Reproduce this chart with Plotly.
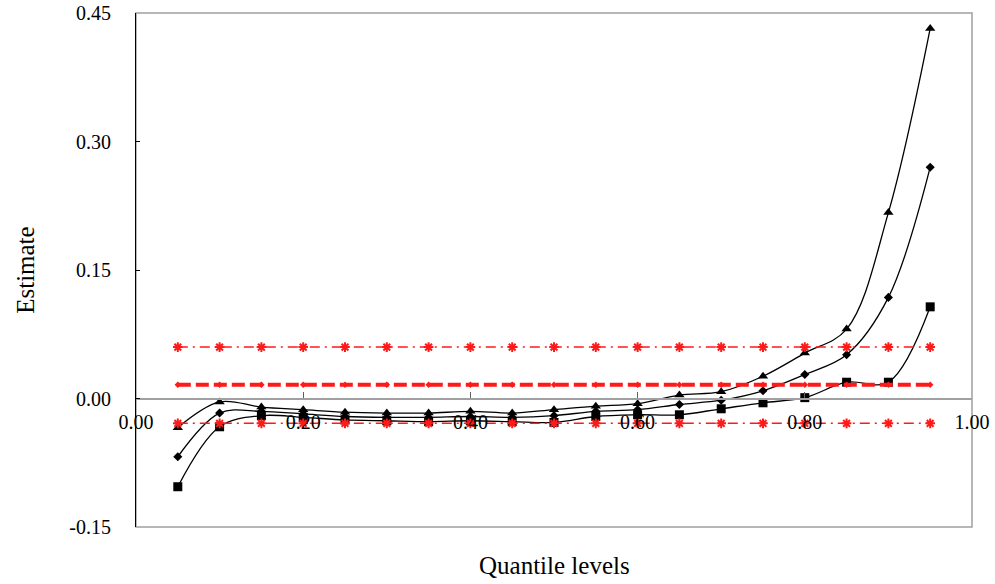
import plotly.graph_objects as go

# Quantile levels
q = [0.05, 0.10, 0.15, 0.20, 0.25, 0.30, 0.35, 0.40, 0.45, 0.50,
     0.55, 0.60, 0.65, 0.70, 0.75, 0.80, 0.85, 0.90, 0.95]

# Quantile regression estimates (three series)
est_triangle = [-0.034, -0.004, -0.010, -0.013, -0.016, -0.017, -0.017, -0.015, -0.017, -0.013,
                -0.009, -0.006, 0.004, 0.008, 0.026, 0.053, 0.081, 0.217, 0.432]
est_diamond = [-0.068, -0.017, -0.015, -0.018, -0.021, -0.022, -0.022, -0.021, -0.022, -0.020,
               -0.015, -0.013, -0.007, -0.002, 0.009, 0.028, 0.051, 0.118, 0.270]
est_square = [-0.103, -0.033, -0.020, -0.022, -0.025, -0.026, -0.027, -0.026, -0.027, -0.028,
              -0.021, -0.019, -0.019, -0.012, -0.005, 0.001, 0.019, 0.019, 0.107]

# Constant reference lines (OLS estimate and its bounds)
ols_est = [0.016] * len(q)
upper_bound = [0.060] * len(q)
lower_bound = [-0.029] * len(q)

y_ticks = [-0.15, 0.00, 0.15, 0.30, 0.45]
y_tick_text = ["-0.15", "0.00", "0.15", "0.30", "0.45"]
x_ticks = [0.0, 0.2, 0.4, 0.6, 0.8, 1.0]
x_tick_text = ["0.00", "0.20", "0.40", "0.60", "0.80", "1.00"]

FONT = "Liberation Serif"

fig = go.Figure()

for ys, sym, size in [(est_triangle, "triangle-up", 9),
                      (est_diamond, "diamond", 7),
                      (est_square, "square", 9)]:
    fig.add_trace(go.Scatter(
        x=q, y=ys, mode="lines+markers",
        line=dict(color="black", width=1.3, shape="spline", smoothing=1.0),
        marker=dict(symbol=sym, size=size, color="black"),
        showlegend=False))

for ys in [upper_bound, lower_bound]:
    fig.add_trace(go.Scatter(
        x=q, y=ys, mode="lines+markers",
        line=dict(color="#ff1a1a", width=1.5, dash="10px,5px,2px,5px"),
        marker=dict(symbol="asterisk-open", size=8,
                    line=dict(color="#ff1a1a", width=2)),
        showlegend=False))

fig.add_trace(go.Scatter(
    x=q, y=ols_est, mode="lines+markers",
    line=dict(color="#ff1a1a", width=4, dash="13px,5px"),
    marker=dict(symbol="diamond", size=5, color="#ff1a1a"),
    showlegend=False))

fig.update_layout(
    width=995, height=584,
    margin=dict(l=136, r=23, t=13, b=57),
    paper_bgcolor="white", plot_bgcolor="white",
    font=dict(family=FONT, size=20, color="black"),
    xaxis=dict(range=[0, 1], tickvals=x_ticks, ticktext=x_tick_text,
               anchor="free", position=0.25, automargin=False,
               showline=True, linecolor="#a0a0a0", linewidth=1.5,
               ticks="inside", ticklen=6, tickcolor="#606060",
               ticklabelstandoff=6, ticklabeloverflow="allow",
               showgrid=False, zeroline=False,
               tickfont=dict(family=FONT, size=20)),
    yaxis=dict(range=[-0.15, 0.45], tickvals=y_ticks, ticktext=y_tick_text,
               automargin=False,
               showline=True, linecolor="black", linewidth=1.2,
               ticks="inside", ticklen=4, tickcolor="black",
               ticklabelstandoff=20, ticklabeloverflow="allow",
               showgrid=False, zeroline=False,
               tickfont=dict(family=FONT, size=20)),
    shapes=[dict(type="rect", xref="x domain", yref="y domain",
                 x0=0, x1=1, y0=0, y1=1,
                 line=dict(color="#a0a0a0", width=1.5), layer="below")],
    annotations=[
        dict(text="Quantile levels", xref="paper", yref="paper",
             x=0.5, y=-0.074, xanchor="center", yanchor="middle",
             showarrow=False, font=dict(family=FONT, size=25)),
        dict(text="Estimate", xref="paper", yref="paper",
             x=-0.133, y=0.5, xanchor="center", yanchor="middle",
             textangle=-90, showarrow=False, font=dict(family=FONT, size=25)),
    ],
)

fig.write_html("out.html",
               config={"displayModeBar": False},
               post_script="document.body.style.margin='0px';"
                           "document.body.style.overflow='hidden';")
